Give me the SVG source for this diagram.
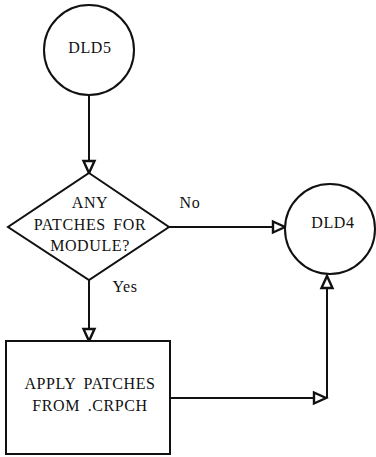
<svg xmlns="http://www.w3.org/2000/svg" width="376" height="457" viewBox="0 0 376 457">
<style>
.shape{fill:#fff;stroke:#111;stroke-width:2}
.edge{fill:none;stroke:#111;stroke-width:2}
text{font-family:"Liberation Serif","DejaVu Serif",serif;font-size:16px;letter-spacing:0.6px;word-spacing:3px;fill:#111;text-anchor:middle}
</style>
<defs>
<marker id="arr" markerUnits="userSpaceOnUse" markerWidth="16" markerHeight="14" refX="13" refY="6" orient="auto" overflow="visible">
<path d="M1,0.5 L13,6 L1,11.5 z" fill="#fff" stroke="#111" stroke-width="2.4"/>
</marker>
</defs>
<g id="connectors">
<path class="edge" d="M89 95 V173" marker-end="url(#arr)"/>
<path class="edge" d="M169 227 H285" marker-end="url(#arr)"/>
<path class="edge" d="M89 280 V341" marker-end="url(#arr)"/>
<path class="edge" d="M170 398 H326" marker-end="url(#arr)"/>
<path class="edge" d="M327 398 V276" marker-end="url(#arr)"/>
<text x="190" y="208">No</text>
<text x="125" y="292">Yes</text>
</g>
<g id="dld5">
<circle class="shape" cx="89" cy="50" r="45"/>
<text x="90" y="53">DLD5</text>
</g>
<g id="decision">
<polygon class="shape" points="89,173 169,227 89,280 8,227"/>
<text x="90" y="208">ANY</text>
<text x="90" y="230">PATCHES FOR</text>
<text x="90" y="251">MODULE?</text>
</g>
<g id="dld4">
<circle class="shape" cx="330" cy="229" r="45"/>
<text x="333" y="228">DLD4</text>
</g>
<g id="apply">
<rect class="shape" x="6" y="341" width="164" height="113"/>
<text x="90" y="389">APPLY PATCHES</text>
<text x="90" y="411">FROM .CRPCH</text>
</g>
</svg>
